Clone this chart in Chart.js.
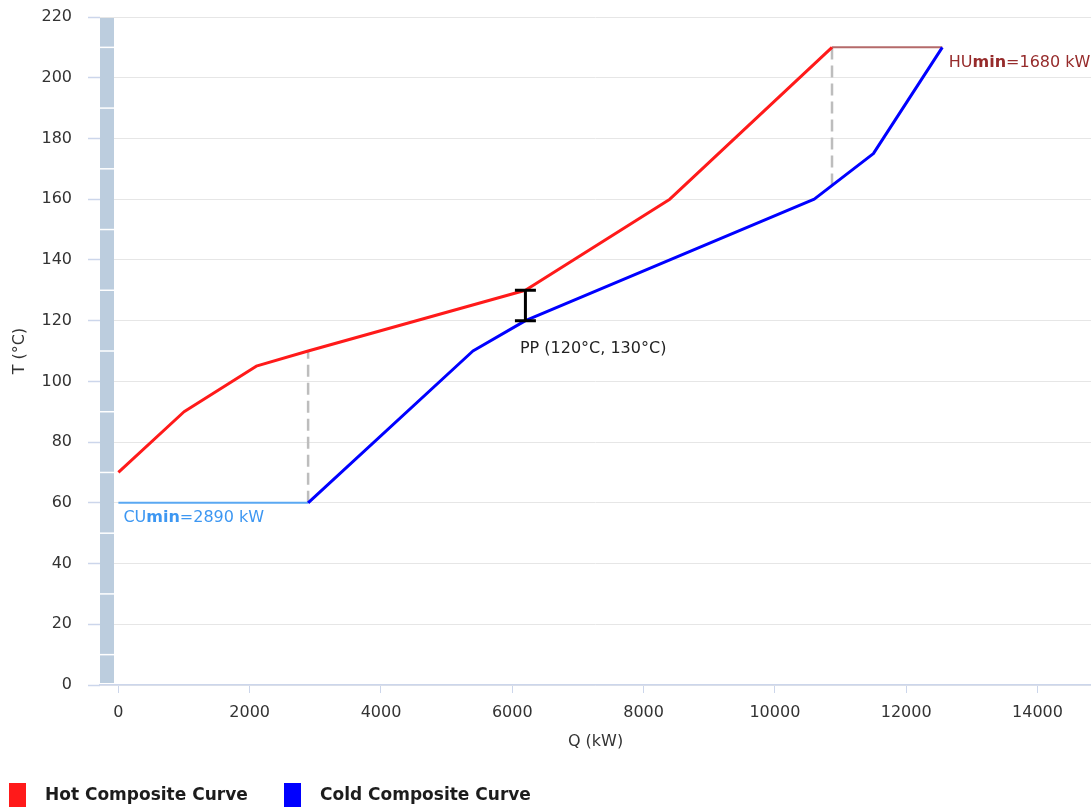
<!DOCTYPE html>
<html>
<head>
<meta charset="utf-8">
<title>Composite Curves</title>
<script src="https://cdn.jsdelivr.net/npm/chart.js@4/dist/chart.umd.min.js"></script>
<style>
  html, body { margin: 0; padding: 0; background: #fff; overflow: hidden; }
  #wrap { position: relative; width: 1091px; height: 807px; }
</style>
</head>
<body>
<div id="wrap"><canvas id="chart"></canvas></div>
<script>
// Hot composite curve: cumulative heat load Q (kW) against temperature T (°C)
const hotQ = [0, 1000, 2100, 2890, 6200, 8400, 10870];
const hotT = [70, 90, 105, 110, 130, 160, 210];

// Cold composite curve
const coldQ = [2890, 5400, 6200, 10600, 11500, 12550];
const coldT = [60, 110, 120, 160, 175, 210];

// Minimum utilities
const cuMin = 2890;                 // cold utility, kW
const huMin = 1680;                 // hot utility, kW
const cuQ = [0, 2890];
const cuT = [60, 60];
const huQ = [10870, 12550];
const huT = [210, 210];

// Vertical guides at the utility ends
const cuGuideQ = [2890, 2890];
const cuGuideT = [60, 110];
const huGuideQ = [10870, 10870];
const huGuideT = [164.5, 210];

// Pinch point
const pinchQ = 6200;
const pinchCold = 120;
const pinchHot = 130;

// Axes
const qRange = [-280, 14815];
const qTicks = [0, 2000, 4000, 6000, 8000, 10000, 12000, 14000];
const tRange = [0, 220];
const tTicks = [0, 20, 40, 60, 80, 100, 120, 140, 160, 180, 200, 220];
const bandStops = [0, 10, 30, 50, 70, 90, 110, 130, 150, 170, 190, 210, 220];

const FONT = "'DejaVu Sans', sans-serif";
const pts = (xs, ys) => xs.map((x, i) => ({ x: x, y: ys[i] }));

const curve = (label, xs, ys, color, width, extra) => Object.assign({
  label: label,
  data: pts(xs, ys),
  borderColor: color,
  backgroundColor: color,
  borderWidth: width,
  pointRadius: 0,
  pointHoverRadius: 0,
  fill: false,
  tension: 0,
  borderJoinStyle: 'round',
  inLegend: false
}, extra || {});

// Segmented band along the temperature axis
const tempBand = {
  id: 'tempBand',
  beforeDatasetsDraw(chart) {
    const { ctx, chartArea, scales: { y } } = chart;
    const left = chartArea.left;
    const w = 14;
    ctx.save();
    ctx.fillStyle = '#bccdde';
    const top = y.getPixelForValue(bandStops[bandStops.length - 1]) + 1;
    const bottom = y.getPixelForValue(bandStops[0]) - 2;
    ctx.fillRect(left, top, w, bottom - top);
    ctx.strokeStyle = '#ffffff';
    ctx.lineWidth = 1.5;
    for (let i = 1; i < bandStops.length - 1; i++) {
      const py = y.getPixelForValue(bandStops[i]);
      ctx.beginPath();
      ctx.moveTo(left, py);
      ctx.lineTo(left + w, py);
      ctx.stroke();
    }
    ctx.restore();
  }
};

function drawRuns(ctx, x, y, runs, color, size) {
  ctx.fillStyle = color;
  ctx.textBaseline = 'alphabetic';
  ctx.textAlign = 'left';
  for (const r of runs) {
    ctx.font = (r.bold ? 'bold ' : '') + size + 'px ' + FONT;
    ctx.fillText(r.t, x, y);
    x += ctx.measureText(r.t).width;
  }
}

// Pinch marker and annotation texts
const annotations = {
  id: 'annotations',
  afterDatasetsDraw(chart) {
    const { ctx, scales: { x, y } } = chart;
    ctx.save();

    // pinch I-beam
    const px = x.getPixelForValue(pinchQ);
    const pLo = y.getPixelForValue(pinchCold);
    const pHi = y.getPixelForValue(pinchHot);
    ctx.strokeStyle = '#000';
    ctx.lineWidth = 3;
    ctx.lineCap = 'butt';
    ctx.beginPath();
    ctx.moveTo(px, pLo); ctx.lineTo(px, pHi);
    ctx.moveTo(px - 10.5, pLo); ctx.lineTo(px + 10.5, pLo);
    ctx.moveTo(px - 10.5, pHi); ctx.lineTo(px + 10.5, pHi);
    ctx.stroke();

    drawRuns(ctx, px - 5.5, pLo + 32,
      [{ t: 'PP (' + pinchCold + '°C, ' + pinchHot + '°C)' }], '#222', 16);

    // utility labels
    drawRuns(ctx, x.getPixelForValue(cuQ[0]) + 5, y.getPixelForValue(cuT[0]) + 19,
      [{ t: 'CU' }, { t: 'min', bold: true }, { t: '=' + cuMin + ' kW' }], '#3d97f2', 16);
    drawRuns(ctx, x.getPixelForValue(huQ[1]) + 6.5, y.getPixelForValue(huT[1]) + 20,
      [{ t: 'HU' }, { t: 'min', bold: true }, { t: '=' + huMin + ' kW' }], '#962b2b', 16);

    ctx.restore();
  }
};

// Legend drawn under the axis
const bottomLegend = {
  id: 'bottomLegend',
  afterDraw(chart) {
    const { ctx } = chart;
    const items = chart.data.datasets.filter(d => d.inLegend);
    const xs = [9, 284];
    ctx.save();
    items.forEach((d, i) => {
      ctx.fillStyle = d.borderColor;
      ctx.fillRect(xs[i], 783, 17, 24);
      ctx.fillStyle = '#1c1c1c';
      ctx.font = 'bold 17px ' + FONT;
      ctx.textAlign = 'left';
      ctx.textBaseline = 'alphabetic';
      ctx.fillText(d.label, xs[i] + 36, 800);
    });
    ctx.restore();
  }
};

new Chart(document.getElementById('chart'), {
  type: 'line',
  data: {
    datasets: [
      curve('Hot Composite Curve', hotQ, hotT, '#ff1a1a', 3, { inLegend: true }),
      curve('Cold Composite Curve', coldQ, coldT, '#0000ff', 3, { inLegend: true }),
      curve('Cold utility', cuQ, cuT, '#5aa8f2', 2),
      curve('Hot utility', huQ, huT, '#b46a6a', 2),
      curve('CU guide', cuGuideQ, cuGuideT, '#bdbdbd', 2.5, { borderDash: [12, 6] }),
      curve('HU guide', huGuideQ, huGuideT, '#bdbdbd', 2.5, { borderDash: [12, 6] })
    ]
  },
  options: {
    responsive: true,
    maintainAspectRatio: false,
    animation: false,
    events: [],
    layout: { padding: { top: 17, left: 0, right: 0, bottom: 52 } },
    plugins: {
      legend: { display: false },
      tooltip: { enabled: false },
      title: { display: false }
    },
    scales: {
      x: {
        type: 'linear',
        min: qRange[0],
        max: qRange[1],
        afterFit(scale) { scale.height = 70; },
        afterBuildTicks(scale) { scale.ticks = qTicks.map(v => ({ value: v })); },
        ticks: {
          padding: 10,
          color: '#333',
          font: { family: FONT, size: 16 },
          callback: v => String(v)
        },
        grid: {
          drawOnChartArea: false,
          drawTicks: true,
          tickLength: 8,
          tickColor: '#ccd6eb',
          tickWidth: 1
        },
        border: { display: true, color: '#ccd6eb', width: 1.5 },
        title: {
          display: true,
          text: 'Q (kW)',
          color: '#333',
          font: { family: FONT, size: 16 },
          padding: { top: 4, bottom: 4 }
        }
      },
      y: {
        type: 'linear',
        min: tRange[0],
        max: tRange[1],
        afterFit(scale) {
          scale.width = 100;
          scale.paddingTop = 0;
          scale.paddingBottom = 0;
        },
        afterBuildTicks(scale) { scale.ticks = tTicks.map(v => ({ value: v })); },
        ticks: {
          padding: 16,
          color: '#333',
          font: { family: FONT, size: 16 },
          callback: v => String(v)
        },
        grid: {
          color: '#e6e6e6',
          lineWidth: 1,
          drawTicks: true,
          tickLength: 12,
          tickColor: '#ccd6eb',
          tickWidth: 1.5
        },
        border: { display: false },
        title: {
          display: true,
          text: 'T (°C)',
          color: '#333',
          font: { family: FONT, size: 16 },
          padding: { top: 10, bottom: 4 }
        }
      }
    }
  },
  plugins: [tempBand, annotations, bottomLegend]
});
</script>
</body>
</html>
